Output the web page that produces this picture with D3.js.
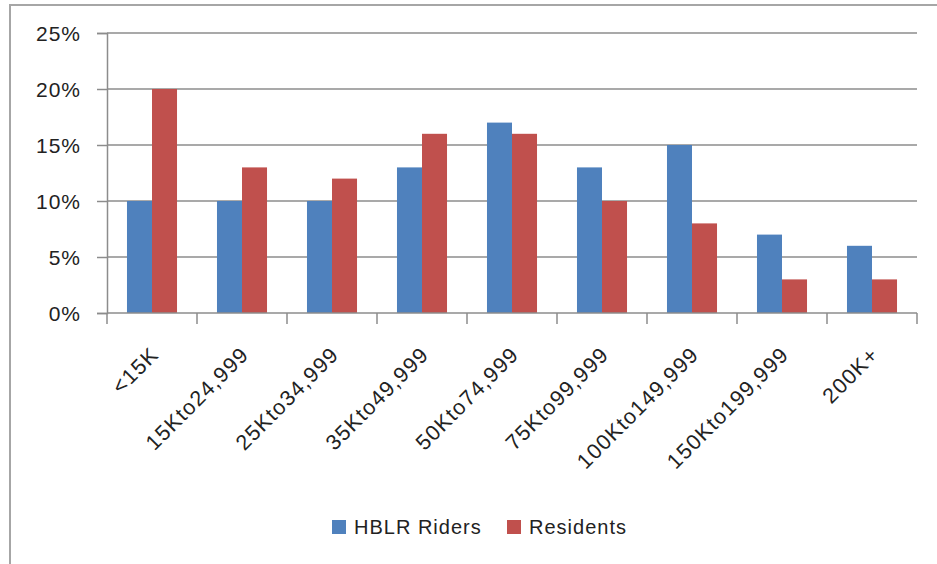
<!DOCTYPE html>
<html>
<head>
<meta charset="utf-8">
<script src="https://cdn.jsdelivr.net/npm/d3@7/dist/d3.min.js"></script>
<style>
  html, body { margin: 0; padding: 0; background: #fff; }
  svg text { font-family: "Liberation Sans", Arial, sans-serif; fill: #222; }
</style>
</head>
<body>
<svg id="chart" width="937" height="564"></svg>
<script>
const categories = ["<15K", "15Kto24,999", "25Kto34,999", "35Kto49,999", "50Kto74,999", "75Kto99,999", "100Kto149,999", "150Kto199,999", "200K+"];
const seriesNames = ["HBLR Riders", "Residents"];
const hblrRiders = [10, 10, 10, 13, 17, 13, 15, 7, 6];
const residents = [20, 13, 12, 16, 16, 10, 8, 3, 3];
const yTicks = [0, 5, 10, 15, 20, 25];
const colors = ["#4F81BD", "#C0504D"];

(function () {
const svg = d3.select("#chart");
const pLeft = 107, pRight = 917, pTop = 33, pBottom = 313;

// outer chart border
svg.append("rect").attr("x", 10).attr("y", 5).attr("width", 1000).attr("height", 1000)
  .attr("fill", "none").attr("stroke", "#a6a6a6").attr("stroke-width", 2);

const x = d3.scaleBand().domain(categories).range([pLeft, pRight]).paddingInner(0.444).paddingOuter(0.222);
const xs = d3.scaleBand().domain(seriesNames).range([0, x.bandwidth()]);
const y = d3.scaleLinear().domain([0, 25]).range([pBottom, pTop]);

// gridlines
svg.append("g").selectAll("line").data(yTicks.filter(d => d > 0)).join("line")
  .attr("x1", pLeft).attr("x2", pRight)
  .attr("y1", d => y(d)).attr("y2", d => y(d))
  .attr("stroke", "#8c8c8c").attr("stroke-width", 1.5);

// y axis
const yAxis = d3.axisLeft(y).tickValues(yTicks).tickFormat(d => d + "%").tickSize(10).tickPadding(16);
const gy = svg.append("g").attr("transform", `translate(${pLeft},0)`).call(yAxis);
gy.select(".domain").attr("stroke", "#8c8c8c").attr("stroke-width", 1.5);
gy.selectAll(".tick line").attr("stroke", "#8c8c8c").attr("stroke-width", 1.5);
gy.selectAll(".tick text").attr("font-size", 21).attr("font-family", "Liberation Sans, Arial, sans-serif")
  .attr("fill", "#222").attr("letter-spacing", 1).attr("dy", "0.36em");

// bars
const data = categories.map((c, i) => ({ cat: c, vals: [hblrRiders[i], residents[i]] }));
const groups = svg.append("g").selectAll("g").data(data).join("g")
  .attr("transform", d => `translate(${x(d.cat)},0)`);
groups.selectAll("rect").data(d => d.vals.map((v, k) => ({ name: seriesNames[k], v, k }))).join("rect")
  .attr("x", d => xs(d.name)).attr("width", xs.bandwidth())
  .attr("y", d => y(d.v)).attr("height", d => y(0) - y(d.v))
  .attr("fill", d => colors[d.k]);

// x axis
const xTickScale = d3.scaleLinear().domain([0, categories.length]).range([pLeft, pRight]);
const gx = svg.append("g");
gx.append("line").attr("x1", pLeft).attr("x2", pRight).attr("y1", pBottom).attr("y2", pBottom)
  .attr("stroke", "#8c8c8c").attr("stroke-width", 1.5);
gx.selectAll("line.tk").data(d3.range(categories.length + 1)).join("line").attr("class", "tk")
  .attr("x1", d => xTickScale(d)).attr("x2", d => xTickScale(d))
  .attr("y1", pBottom).attr("y2", pBottom + 11)
  .attr("stroke", "#8c8c8c").attr("stroke-width", 1.5);
gx.selectAll("text").data(categories).join("text")
  .attr("transform", d => `translate(${x(d) + x.bandwidth() / 2 + 8},${356}) rotate(-45)`)
  .attr("text-anchor", "end").attr("font-size", 21.5).attr("letter-spacing", 1.2)
  .text(d => d);

// legend
const legend = svg.append("g");
const legendX = [332, 507];
seriesNames.forEach((n, i) => {
  legend.append("rect").attr("x", legendX[i]).attr("y", 520).attr("width", 14).attr("height", 14)
    .attr("fill", colors[i]);
  legend.append("text").attr("x", legendX[i] + 22).attr("y", 534)
    .attr("font-size", 20).attr("letter-spacing", 1).text(n);
});
})();
</script>
</body>
</html>
